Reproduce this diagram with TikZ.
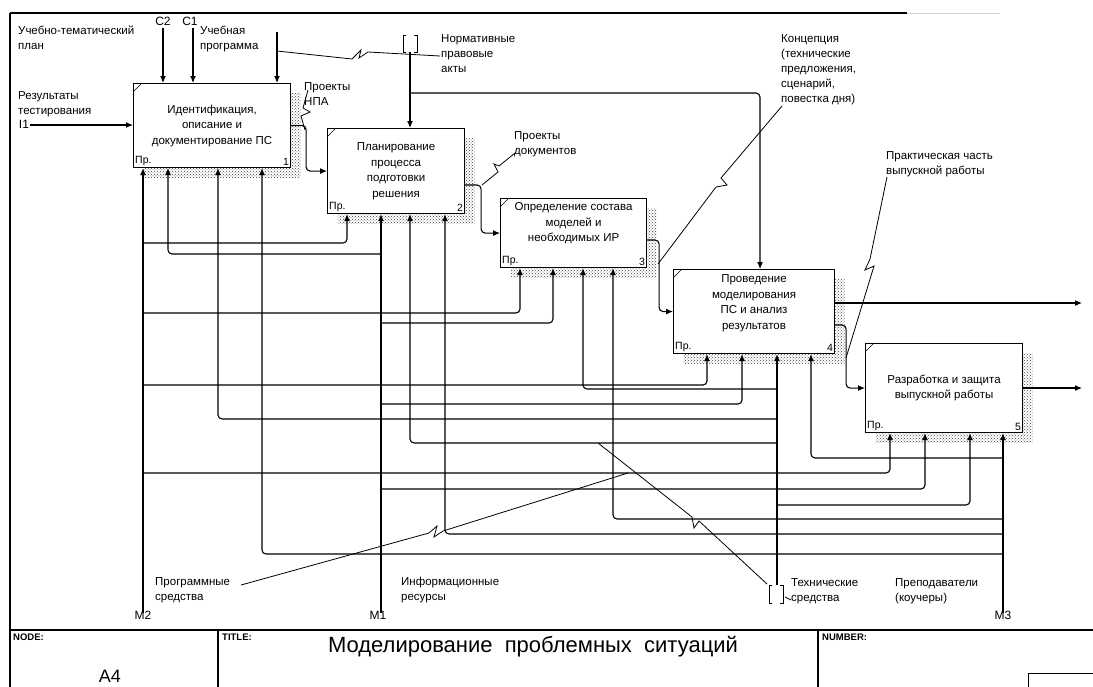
\documentclass[tikz,border=0pt]{standalone}
\usepackage{fontspec}
\setmainfont{Liberation Sans}
\usetikzlibrary{arrows.meta,patterns,shadows,positioning}

\begin{document}
\begin{tikzpicture}[x=1pt,y=-1pt,
  >={Latex[length=7pt,width=6pt]},
  conn/.style={line width=1.1pt, rounded corners=4pt},
  squig/.style={line width=0.8pt},
  frame/.style={line width=1.3pt},
  func/.style={draw, line width=1.1pt, fill=white, anchor=north west, align=center,
    font=\fontsize{11.5}{15.5}\selectfont, inner sep=2pt,
    drop shadow={shadow xshift=10pt, shadow yshift=-10pt, opacity=1, fill=none,
      pattern=crosshatch dots, pattern color=black!75}},
  tag/.style={font=\fontsize{10.5}{12}\selectfont, inner sep=2pt},
  lbl/.style={anchor=north west, align=left, font=\fontsize{11.5}{15}\selectfont, inner sep=0pt},
  mlbl/.style={anchor=base, font=\fontsize{12}{14}\selectfont, inner sep=0pt},
  head/.style={anchor=north west, font=\fontsize{9.5}{11}\selectfont\bfseries, inner sep=0pt},
]
\useasboundingbox (0,0) rectangle (1093,686);
% Frame and title block
\draw[frame] (10,13) -- (907,13);
\draw[gray!35] (907,13) -- (1000,13);
\draw[frame] (10,13) -- (10,690);
\draw[frame] (10,630) -- (1100,630);
\draw[frame] (218,630) -- (218,690);
\draw[frame] (818,630) -- (818,690);
\draw[line width=1pt] (1028,673) rectangle (1100,700);
\node[head] (lnode) at (13,634) {NODE:};
\node[head] (ltit) at (222,634) {TITLE:};
\node[head] (lnum) at (822,634) {NUMBER:};
\node[inner sep=0pt] (la4) at (110,676) {\fontsize{18}{20}\selectfont A4};
\node[inner sep=0pt] (ltitle) at (533,647) {\fontsize{22}{26}\selectfont Моделирование\ \ проблемных\ \ ситуаций};
% Functions
\node[func, minimum width=157pt, minimum height=84pt] (b1) at (133,83) {Идентификация,\\описание и\\документирование ПС};
\node[func, minimum width=137pt, minimum height=85pt] (b2) at (327,128) {Планирование\\процесса\\подготовки\\решения};
\node[func, minimum width=146pt, minimum height=69pt] (b3) at (500,198) {Определение состава\\моделей и\\необходимых ИР\\[6pt]};
\node[func, minimum width=161pt, minimum height=84pt] (b4) at (673,269) {Проведение\\моделирования\\ПС и анализ\\результатов\\[4pt]};
\node[func, minimum width=157pt, minimum height=89pt] (b5) at (865,343) {Разработка и защита\\выпускной работы};
\foreach \b/\n in {b1/1,b2/2,b3/3,b4/4,b5/5} {
  \node[tag, anchor=south west] (\b p) at (\b.south west) {Пр.};
  \node[tag, anchor=south east] (\b n) at (\b.south east) {\n};
  \draw[line width=0.6pt] (\b.north west) ++(0,9) -- ++(9,-9);
}
% Boundary points
\coordinate (c2) at (163,28);
\coordinate (c1) at (193,28);
\coordinate (cp) at (277,32);
\coordinate (nt) at (410,52);
\coordinate (i1) at (30,125);
\coordinate (m2) at (143,613);
\coordinate (m1) at (381,613);
\coordinate (m3) at (1003,613);
\coordinate (ts) at (777,585);
\coordinate (o1) at (1082,303);
\coordinate (o2) at (1082,388);
% Controls and input
\draw[conn,->] (c2) -- (c2 |- b1.north);
\draw[conn,->] (c1) -- (c1 |- b1.north);
\draw[conn,->] (cp) -- (cp |- b1.north);
\draw[conn,->] (nt) -- (nt |- b2.north);
\draw[conn,->] (nt |- 0,93) -| (760,0 |- b4.north);
\draw[conn,->] (i1) -- (i1 -| b1.west);
% Outputs
\draw[conn,->] (b1.east) -- ++(15,0) |- (b2.west);
\draw[conn,->] (b2.east |- 0,185) -- ++(16,0) |- (b3.west);
\draw[conn,->] (b3.east |- 0,240) -- ++(12,0) |- (b4.west);
\draw[conn,->] (b4.east |- o1) -- (o1);
\draw[conn,->] (b4.east |- 0,325) -- ++(11,0) |- (b5.west);
\draw[conn,->] (b5.east |- o2) -- (o2);
% Mechanisms
\draw[conn,->] (m2) -- (m2 |- b1.south);
\foreach \y/\x/\b in {243/347/b2, 313/520/b3, 385/707/b4, 473/890/b5}
  \draw[conn,->] (m2 |- 0,\y) -| (\x,0 |- \b.south);
\draw[conn,->] (m1) -- (m1 |- b2.south);
\foreach \y/\x/\b in {254/168/b1, 323/553/b3, 404/742/b4, 489/925/b5}
  \draw[conn,->] (m1 |- 0,\y) -| (\x,0 |- \b.south);
\draw[conn,->] (ts) -- (ts |- b4.south);
\foreach \y/\x/\b in {419/218/b1, 443/410/b2, 389/583/b3, 505/970/b5}
  \draw[conn,->] (ts |- 0,\y) -| (\x,0 |- \b.south);
\draw[conn,->] (m3) -- (m3 |- b5.south);
\foreach \y/\x/\b in {554/262/b1, 534/445/b2, 519/613/b3, 458/811/b4}
  \draw[conn,->] (m3 |- 0,\y) -| (\x,0 |- \b.south);
% Tunnels
\draw[line width=1pt] (406,35) -- (403,35) -- (403,52) -- (406,52);
\draw[line width=1pt] (414,35) -- (417,35) -- (417,52) -- (414,52);
\draw[line width=1pt] (772,585) -- (769,585) -- (769,603) -- (772,603);
\draw[line width=1pt] (780,585) -- (783,585) -- (783,603) -- (780,603);
% Squiggles
\draw[squig] (cp |- 0,51) -- (352,59) -- (361,50) -- (359,58) -- (368,52) -- (440,56);
\draw[squig] (308,90) -- (303,108) -- (310,112) -- (301,116) -- (305,130);
\draw[squig] (515,153) -- (499,166) -- (494,164) -- (498,172) -- (482,185);
\draw[squig] (782,106) -- (721,178) -- (727,185) -- (716,187) -- (658,264);
\draw[squig] (887,177) -- (870,259) -- (865,270) -- (874,266) -- (846,358);
\draw[squig] (241,585) -- (429,533) -- (437,526) -- (434,537) -- (443,531) -- (628,473);
\draw[squig] (598,443) -- (692,517) -- (694,528) -- (699,521) -- (767,584);
\draw[squig] (785,597) -- (791,600);
% Labels
\node[mlbl] (lc2) at (163,25) {C2};
\node[mlbl] (lc1) at (190,25) {C1};
\node[lbl] (lplan) at (18,26) {Учебно-тематический\\план};
\node[lbl] (lprog) at (200,26) {Учебная\\программа};
\node[lbl] (lres) at (18,91) {Результаты\\тестирования};
\node[mlbl] (li1) at (24,128) {I1};
\node[lbl] (lnorm) at (441,34) {Нормативные\\правовые\\акты};
\node[lbl] (lnpa) at (304,82) {Проекты\\НПА};
\node[lbl] (ldoc) at (514,131) {Проекты\\документов};
\node[lbl] (lconc) at (781,34) {Концепция\\(технические\\предложения,\\сценарий,\\повестка дня)};
\node[lbl] (lprak) at (886,151) {Практическая часть\\выпускной работы};
\node[lbl] (lsoft) at (155,577) {Программные\\средства};
\node[lbl] (linfo) at (401,577) {Информационные\\ресурсы};
\node[lbl] (ltech) at (791,578) {Технические\\средства};
\node[lbl] (lteach) at (895,578) {Преподаватели\\(коучеры)};
\node[mlbl] (lm2) at (143,619) {M2};
\node[mlbl] (lm1) at (378,619) {M1};
\node[mlbl] (lm3) at (1003,619) {M3};
\end{tikzpicture}
\end{document}
